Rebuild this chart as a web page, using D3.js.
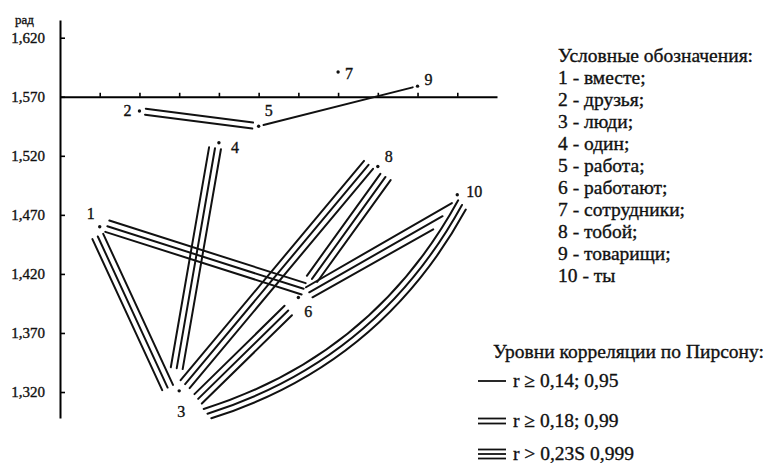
<!DOCTYPE html>
<html>
<head>
<meta charset="utf-8">
<script src="https://cdn.jsdelivr.net/npm/d3@7"></script>
<style>
  body { margin: 0; background: #fff; }
  svg { display: block; }
  text {
    font-family: "Liberation Serif", "Times New Roman", "DejaVu Serif", serif;
    fill: #111;
    stroke: #111;
    stroke-width: 0.35px;
  }
</style>
</head>
<body>
<svg></svg>
<script>
'use strict';

const svgWidth = 771;
const svgHeight = 465;

// words (nodes): position on the unlabeled horizontal axis and angle in rad
const nodeIds = [1, 2, 3, 4, 5, 6, 7, 8, 9, 10];
const nodeX = [1, 2, 3, 4, 5, 6, 7, 8, 9, 10];
const nodeY = [1.460, 1.558, 1.321, 1.531, 1.545, 1.400, 1.591, 1.511, 1.579, 1.487];
const words = ['вместе', 'друзья', 'люди', 'один', 'работа', 'работают',
  'сотрудники', 'тобой', 'товарищи', 'ты'];

// links: [from, to, level] -> level 1..3 = number of lines
const links = [
  [1, 3, 3], [1, 6, 3], [3, 4, 3], [3, 6, 3], [3, 8, 3],
  [6, 8, 3], [6, 10, 3], [3, 10, 3], [2, 5, 2], [5, 9, 1]
];

const yTicks = [1.32, 1.37, 1.42, 1.47, 1.52, 1.57, 1.62];
const xTicks = [1, 2, 3, 4, 5, 6, 7, 8, 9, 10];
const levelLabels = ['r ≥ 0,14; 0,95', 'r ≥ 0,18; 0,99', 'r > 0,23S 0,999'];

// label placement around each dot (px)
const labelOffset = {
  1: [-9, -13], 2: [-12, 0], 3: [2, 21], 4: [16, 5], 5: [10, -16],
  6: [10, 14], 7: [11, 2], 8: [11, -10], 9: [11, -7], 10: [17, -3]
};
// how each bundle sits against its two dots (px): side shift, trim, arc bend, stagger
const linkLayout = {
  '1-3': { s0: 6, s1: 9, t0: 8, t1: 8 },
  '1-6': { s0: -3, s1: -10, t0: 7, t1: -2 },
  '3-4': { s0: -6, s1: -3, t0: 22, t1: 6 },
  '3-6': { s0: 18, s1: 4, t0: 10, t1: 16 },
  '3-8': { s0: 0, s1: -8, t0: 9, t1: 5 },
  '6-8': { s0: 2, s1: 12, t0: 23, t1: 5 },
  '6-10': { s0: 1.5, s1: 10, t0: 12, t1: 9, stag: 15 },
  '3-10': { s0: 35, s1: 11, t0: 10, t1: 2, bend: 33 },
  '2-5': { s0: 0, s1: 0, t0: 6, t1: 6 },
  '5-9': { s0: 0, s1: 0, t0: 5, t1: 5 }
};

const gap = 6;
const lineW = 2;

const svg = d3.select('svg')
  .attr('width', svgWidth)
  .attr('height', svgHeight);

const x = d3.scaleLinear()
  .domain([0, 11])
  .range([60, 497]);

const y = d3.scaleLinear()
  .domain([1.298, 1.635])
  .range([418, 20]);

const nodes = nodeIds.map((id, i) => ({ id, word: words[i], px: x(nodeX[i]), py: y(nodeY[i]) }));
const byId = new Map(nodes.map(n => [n.id, n]));

// axes
const yAxis = d3.axisLeft(y)
  .tickValues(yTicks)
  .tickSizeInner(-5)
  .tickSizeOuter(0)
  .tickPadding(15)
  .tickFormat(d => d3.format('.3f')(d).replace('.', ','));

const gy = svg.append('g')
  .attr('transform', `translate(${x(0)}, 0)`)
  .call(yAxis);
gy.select('.domain').attr('stroke-width', 2);
gy.selectAll('.tick line').attr('stroke-width', 1.6);
gy.selectAll('.tick text')
  .attr('font-size', 15)
  .attr('font-family', null);

svg.append('text')
  .attr('x', 15)
  .attr('y', 24)
  .attr('font-size', 13)
  .text('рад');

const xAxis = d3.axisTop(x)
  .tickValues(xTicks)
  .tickSizeInner(4)
  .tickSizeOuter(0)
  .tickFormat('');

const gx = svg.append('g')
  .attr('transform', `translate(0, ${y(1.57)})`)
  .call(xAxis);
gx.select('.domain').attr('stroke-width', 2);
gx.selectAll('.tick line').attr('stroke-width', 1.6);

// links
const linkG = svg.append('g')
  .attr('fill', 'none')
  .attr('stroke', '#111')
  .attr('stroke-width', lineW)
  .attr('stroke-linecap', 'round');

links.forEach(([a, b, lvl]) => {
  const s = byId.get(a), t = byId.get(b);
  const lay = linkLayout[`${a}-${b}`];
  const dx = t.px - s.px, dy = t.py - s.py, L = Math.hypot(dx, dy);
  const ux = dx / L, uy = dy / L, nx = -uy, ny = ux;
  const p0 = [s.px + ux * lay.t0 + nx * lay.s0, s.py + uy * lay.t0 + ny * lay.s0];
  const p1 = [t.px - ux * lay.t1 + nx * lay.s1, t.py - uy * lay.t1 + ny * lay.s1];

  for (let k = 0; k < lvl; k++) {
    const o = (k - (lvl - 1) / 2) * gap;
    if (lay.bend) {
      const cdx = p1[0] - p0[0], cdy = p1[1] - p0[1], cL = Math.hypot(cdx, cdy);
      const mx = -cdy / cL, my = cdx / cL;
      const c = [(p0[0] + p1[0]) / 2 + mx * lay.bend * 2, (p0[1] + p1[1]) / 2 + my * lay.bend * 2];
      const p = d3.path();
      p.moveTo(p0[0] + mx * o, p0[1] + my * o);
      p.quadraticCurveTo(c[0] + mx * o, c[1] + my * o, p1[0] + mx * o, p1[1] + my * o);
      linkG.append('path').attr('d', p.toString());
    } else {
      const st = (lay.stag || 0) * k;
      linkG.append('line')
        .attr('x1', p0[0] + nx * o)
        .attr('y1', p0[1] + ny * o)
        .attr('x2', p1[0] + nx * o - ux * st)
        .attr('y2', p1[1] + ny * o - uy * st);
    }
  }
});

// dots and numbers
svg.append('g')
  .selectAll('circle')
  .data(nodes)
  .join('circle')
  .attr('cx', d => d.px)
  .attr('cy', d => d.py)
  .attr('r', 1.7)
  .attr('fill', '#111');

svg.append('g')
  .selectAll('text')
  .data(nodes)
  .join('text')
  .attr('x', d => d.px + labelOffset[d.id][0])
  .attr('y', d => d.py + labelOffset[d.id][1])
  .attr('text-anchor', 'middle')
  .attr('dominant-baseline', 'central')
  .attr('font-size', 16)
  .text(d => d.id);

// legend: words
const legX = 558;
const leg = svg.append('g')
  .attr('font-size', 19.5);

leg.append('text')
  .attr('x', legX)
  .attr('y', 62)
  .text('Условные обозначения:');

leg.selectAll('text.item')
  .data(nodes)
  .join('text')
  .attr('class', 'item')
  .attr('x', legX)
  .attr('y', (d, i) => 84 + i * 22)
  .text(d => `${d.id} - ${d.word}${d.id < 10 ? ';' : ''}`);

// legend: correlation levels
const lev = svg.append('g')
  .attr('font-size', 19.5);

lev.append('text')
  .attr('x', 493)
  .attr('y', 358)
  .text('Уровни корреляции по Пирсону:');

const levelY = [381, 421, 454];
levelLabels.forEach((lab, i) => {
  const n = i + 1;
  const sp = n === 3 ? 4.5 : 5;
  for (let k = 0; k < n; k++) {
    const o = (k - (n - 1) / 2) * sp;
    lev.append('line')
      .attr('x1', 478)
      .attr('x2', 506)
      .attr('y1', levelY[i] + o)
      .attr('y2', levelY[i] + o)
      .attr('stroke', '#111')
      .attr('stroke-width', 1.8);
  }
  lev.append('text')
    .attr('x', 513)
    .attr('y', levelY[i] + 6)
    .text(lab);
});
</script>
</body>
</html>
